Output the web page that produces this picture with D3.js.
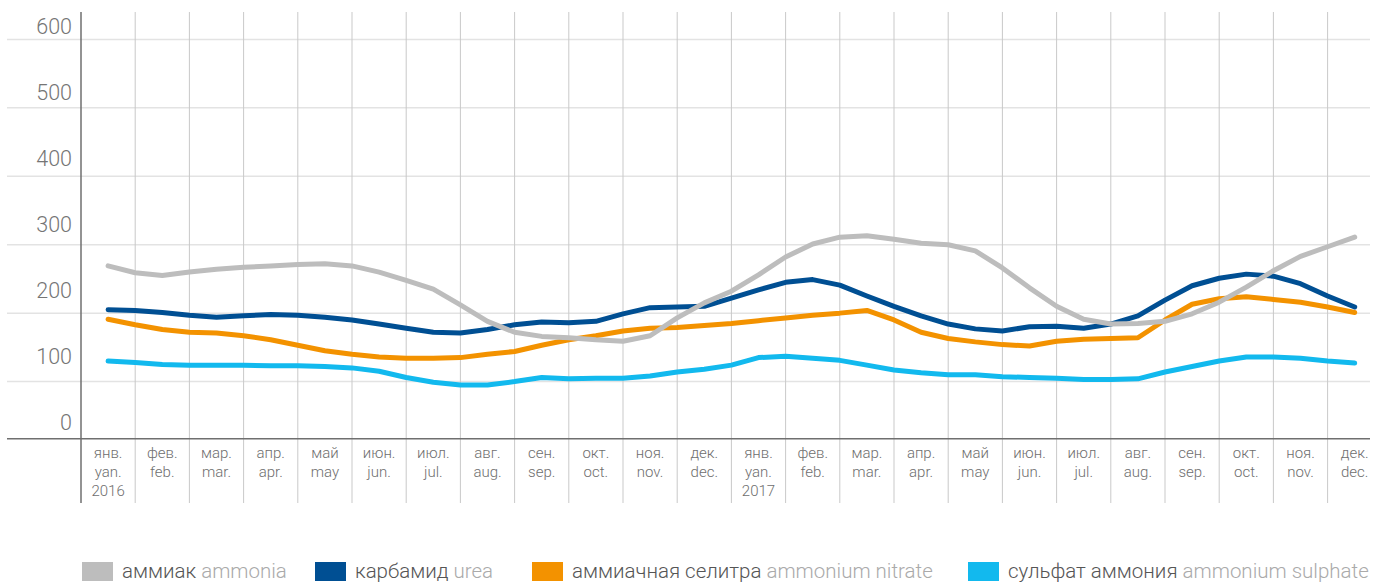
<!DOCTYPE html>
<html>
<head>
<meta charset="utf-8">
<script src="https://cdn.jsdelivr.net/npm/d3@7"></script>
<style>
  body { margin: 0; background: #fff; }
  svg { display: block; font-family: Roboto, "Noto Sans", sans-serif; }
</style>
</head>
<body>
<div id="chart"></div>
<script>
const width = 1379, height = 583;

// подписи месяцев (рус / англ) и годы
const monthsRu = ["янв.", "фев.", "мар.", "апр.", "май", "июн.", "июл.", "авг.", "сен.", "окт.", "ноя.", "дек."];
const monthsEn = ["yan.", "feb.", "mar.", "apr.", "may", "jun.", "jul.", "aug.", "sep.", "oct.", "nov.", "dec."];
const years = ["2016", "2017"];
const yTicks = [0, 100, 200, 300, 400, 500, 600];

// значения по полумесяцам, янв. 2016 - дек. 2017
const ammonia = [269, 259, 255, 260, 264, 267, 269, 271, 272, 269, 260, 248, 235, 212, 188, 172, 166, 164, 161, 159, 167, 193, 215, 232, 256, 282, 301, 311, 313, 308, 302, 300, 291, 266, 237, 210, 191, 184, 185, 188, 199, 216, 238, 262, 283, 297, 311];
const urea = [205, 204, 201, 197, 194, 196, 198, 197, 194, 190, 184, 178, 172, 171, 176, 183, 187, 186, 188, 199, 208, 209, 210, 222, 234, 245, 249, 241, 225, 210, 196, 184, 177, 174, 180, 181, 178, 184, 196, 219, 240, 251, 257, 254, 243, 225, 209];
const nitrate = [191, 183, 176, 172, 171, 167, 161, 153, 145, 140, 136, 134, 134, 135, 140, 144, 153, 161, 167, 174, 178, 179, 182, 185, 189, 193, 197, 200, 204, 190, 172, 163, 158, 154, 152, 159, 162, 163, 164, 190, 213, 221, 224, 220, 216, 209, 201];
const sulphate = [130, 128, 125, 124, 124, 124, 123, 123, 122, 120, 115, 106, 99, 95, 95, 100, 106, 104, 105, 105, 108, 114, 118, 124, 135, 137, 134, 131, 124, 117, 113, 110, 110, 107, 106, 105, 103, 103, 104, 114, 122, 130, 136, 136, 134, 130, 127];

const series = [
    { ru: "сульфат аммония", en: "ammonium sulphate", color: "#12b9ee", values: sulphate },
    { ru: "аммиачная селитра", en: "ammonium nitrate", color: "#f39200", values: nitrate },
    { ru: "карбамид", en: "urea", color: "#004f93", values: urea },
    { ru: "аммиак", en: "ammonia", color: "#bdbdbd", values: ammonia }
];

const left = 81, colW = 54.2, axisY = 438.7;
const months = d3.range(24);

const xBand = d3.scaleBand().domain(months).range([left, left + colW * 24]);
const x = d3.scaleLinear().domain([-1, 47]).range([left, left + colW * 24]);
const y = d3.scaleLinear().domain([0, 600]).range([450, 39.4]);
// подписи оси Y стоят не на линиях сетки, а чуть выше
const yLabel = d3.scaleLinear().domain([0, 600]).range([422, 26]);

const svg = d3.select("#chart").append("svg")
    .attr("width", width)
    .attr("height", height)
    .attr("viewBox", [0, 0, width, height]);

// горизонтальная сетка
svg.append("g")
    .selectAll("line")
    .data(yTicks.filter(d => d > 0))
    .join("line")
    .attr("x1", 7).attr("x2", 1370)
    .attr("y1", d => y(d)).attr("y2", d => y(d))
    .attr("stroke", "#e3e3e3")
    .attr("stroke-width", 1.5);

// вертикальные линии между месяцами
svg.append("g")
    .selectAll("line")
    .data(months.slice(1))
    .join("line")
    .attr("x1", d => xBand(d)).attr("x2", d => xBand(d))
    .attr("y1", 12).attr("y2", 503)
    .attr("stroke", "#c9c9c9")
    .attr("stroke-width", 1);

// оси
svg.append("line")
    .attr("x1", 7).attr("x2", 1370)
    .attr("y1", axisY).attr("y2", axisY)
    .attr("stroke", "#6f6f6f").attr("stroke-width", 1.5);
svg.append("line")
    .attr("x1", left).attr("x2", left)
    .attr("y1", 12).attr("y2", 503)
    .attr("stroke", "#6f6f6f").attr("stroke-width", 1.5);

svg.append("g")
    .selectAll("text")
    .data(yTicks)
    .join("text")
    .attr("x", 72)
    .attr("y", d => yLabel(d))
    .attr("dy", "0.36em")
    .attr("text-anchor", "end")
    .attr("font-size", 21.5)
    .attr("font-weight", 300)
    .attr("fill", "#757575")
    .text(d => d);

// подписи месяцев
const mLabel = svg.append("g")
    .attr("font-size", 15)
    .attr("font-weight", 300)
    .attr("fill", "#6e6e6e")
    .attr("text-anchor", "middle");
mLabel.selectAll(".ru")
    .data(months)
    .join("text")
    .attr("x", d => xBand(d) + xBand.bandwidth() / 2)
    .attr("y", 458)
    .text(d => monthsRu[d % 12]);
mLabel.selectAll(".en")
    .data(months)
    .join("text")
    .attr("x", d => xBand(d) + xBand.bandwidth() / 2)
    .attr("y", 477)
    .text(d => monthsEn[d % 12]);
mLabel.selectAll(".yr")
    .data(years)
    .join("text")
    .attr("x", (d, i) => xBand(i * 12) + xBand.bandwidth() / 2)
    .attr("y", 496)
    .text(d => d);

// линии
const line = d3.line()
    .x((d, i) => x(i))
    .y(d => y(d));

svg.append("g")
    .attr("fill", "none")
    .attr("stroke-width", 5)
    .attr("stroke-linejoin", "round")
    .attr("stroke-linecap", "round")
    .selectAll("path")
    .data(series)
    .join("path")
    .attr("stroke", d => d.color)
    .attr("d", d => line(d.values));

// легенда
const legendOrder = [3, 2, 1, 0];
const legendX = [82, 315, 532, 968];
const legend = svg.append("g")
    .selectAll("g")
    .data(legendOrder)
    .join("g")
    .attr("transform", (d, i) => `translate(${legendX[i]},562)`);
legend.append("rect")
    .attr("width", 31).attr("height", 19)
    .attr("fill", d => series[d].color);
const lt = legend.append("text")
    .attr("x", 40).attr("y", 16)
    .attr("font-size", 20.5)
    .attr("font-weight", 300);
lt.append("tspan").attr("fill", "#555").text(d => series[d].ru + " ");
lt.append("tspan").attr("fill", "#aaa").text(d => series[d].en);
</script>
</body>
</html>
